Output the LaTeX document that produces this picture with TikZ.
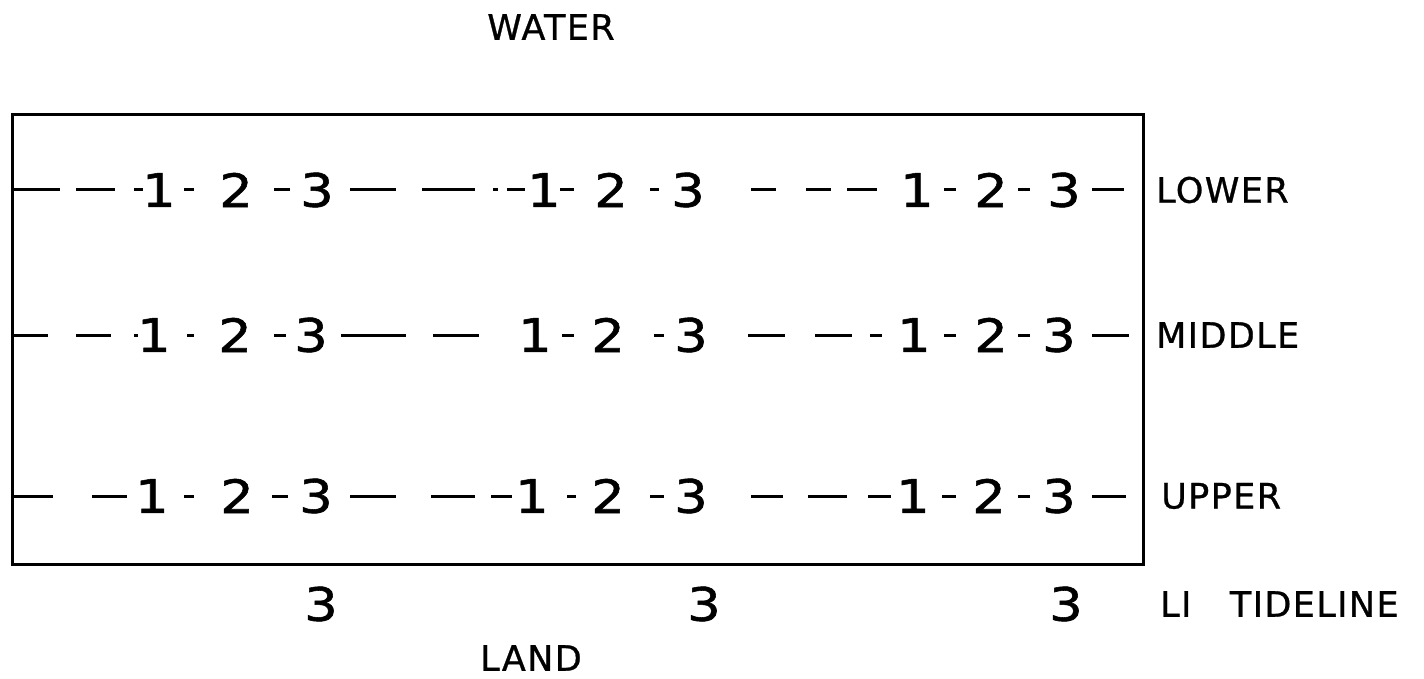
\documentclass[tikz,border=0pt]{standalone}
\usepackage{fontspec}
\setmainfont{DejaVu Sans}
\newfontfamily\digitfont[FakeStretch=1.15,FakeBold=1.2]{DejaVu Sans}
\newfontfamily\lblfont[LetterSpace=4,FakeBold=0.8]{DejaVu Sans}
\begin{document}
\begin{tikzpicture}[x=1pt,y=-1pt,
  digit/.style={font=\digitfont\fontsize{46}{46}\selectfont, inner sep=0pt},
  lbl/.style={font=\lblfont\fontsize{35}{35}\selectfont, inner sep=0pt},
  seg/.style={line width=3pt},
  frame/.style={draw, line width=3pt, inner sep=0pt, minimum width=1131pt, minimum height=450pt}]
\useasboundingbox (0,0) rectangle (1424,679);
\node[frame, anchor=north west] (box) at (11,113) {};
\node[lbl] (water) at (551,27) {WATER};
\node[lbl] (land) at (531,658) {LAND};
% LOWER row
\foreach \n/\x in {1/159,2/236,3/317,4/544,5/611,6/688,7/917,8/991,9/1064}{
  \pgfmathtruncatemacro{\d}{mod(\n-1,3)+1}
  \node[digit] (L\n) at (\x,190) {\d};
}
\foreach \a/\b in {14/60,76/115,134/143,184/194,274/290,350/396,422/475,493/498,507/525,560/574,650/659,751/776,806/831,847/877,944/956,1018/1030,1092/1124}
  \draw[seg] (\a,190) -- (\b,190);
\node[lbl, anchor=west] (lower) at (1156,190) {LOWER};
% MIDDLE row
\foreach \n/\x in {1/154,2/235,3/311,4/535,5/608,6/691,7/914,8/991,9/1059}{
  \pgfmathtruncatemacro{\d}{mod(\n-1,3)+1}
  \node[digit] (M\n) at (\x,335) {\d};
}
\foreach \a/\b in {14/48,76/111,134/138,187/194,274/286,341/406,433/479,562/574,654/664,748/785,815/852,870/882,944/956,1018/1030,1092/1129}
  \draw[seg] (\a,335) -- (\b,335);
\node[lbl, anchor=west] (middle) at (1156,335) {MIDDLE};
% UPPER row
\foreach \n/\x in {1/152,2/237,3/316,4/532,5/608,6/691,7/913,8/989,9/1059}{
  \pgfmathtruncatemacro{\d}{mod(\n-1,3)+1}
  \node[digit] (U\n) at (\x,496) {\d};
}
\foreach \a/\b in {14/53,92/127,184/194,272/288,350/396,431/475,491/512,567/576,650/664,751/783,808/847,868/891,942/956,1018/1030,1092/1126}
  \draw[seg] (\a,496) -- (\b,496);
\node[lbl, anchor=west] (upper) at (1161,496) {UPPER};
% tideline
\node[digit] (T1) at (321,604) {3};
\node[digit] (T2) at (704,604) {3};
\node[digit] (T3) at (1066,604) {3};
\node[lbl, anchor=west] (tide) at (1160,604) {LI\hspace{1.1em}TIDELINE};
\end{tikzpicture}
\end{document}
